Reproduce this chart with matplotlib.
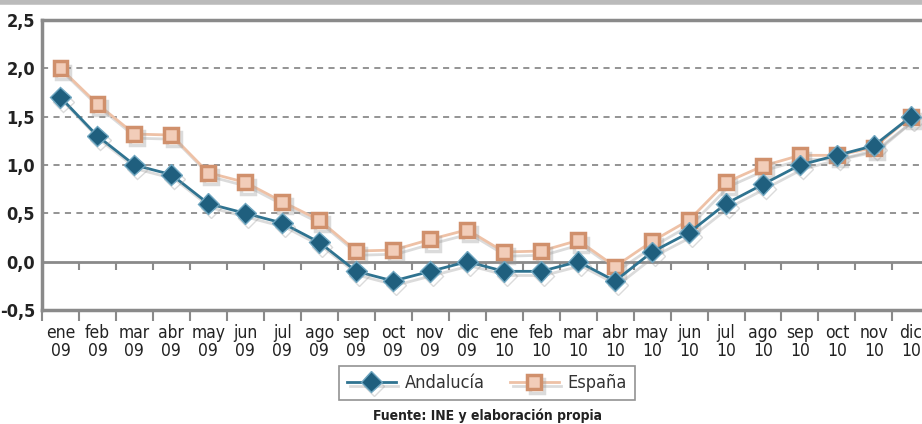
import numpy as np
import matplotlib.pyplot as plt
import matplotlib.patheffects as pe

meses = ['ene', 'feb', 'mar', 'abr', 'may', 'jun', 'jul', 'ago', 'sep', 'oct', 'nov', 'dic']
etiquetas = ['%s\n09' % m for m in meses] + ['%s\n10' % m for m in meses]

andalucia = [1.7, 1.3, 1.0, 0.9, 0.6, 0.5, 0.4, 0.2, -0.1, -0.2, -0.1, 0.0,
             -0.1, -0.1, 0.0, -0.2, 0.1, 0.3, 0.6, 0.8, 1.0, 1.1, 1.2, 1.5]
espana = [2.0, 1.63, 1.32, 1.31, 0.92, 0.82, 0.62, 0.43, 0.11, 0.12, 0.23, 0.33,
          0.10, 0.11, 0.22, -0.05, 0.21, 0.43, 0.82, 0.99, 1.10, 1.10, 1.18, 1.50]

plt.rcParams['font.family'] = ['DejaVu Sans']
plt.rcParams['font.stretch'] = 'condensed'

gris = '#8a8a8a'
azul = '#2f7390'
melocoton = '#eec1a6'
borde_sq = '#d0906c'
cara_sq = '#f2cdb9'

fig = plt.figure(figsize=(9.22, 4.24), dpi=100)
ax = fig.add_axes([42 / 922, 114 / 424, 880 / 922, 290 / 424])

x = np.arange(len(etiquetas))
sombra = [pe.SimpleLineShadow(offset=(2, -3), shadow_color='#999999', alpha=0.35), pe.Normal()]

ax.plot(x, espana, color=melocoton, lw=2.0, marker='s', ms=10, mfc=cara_sq,
        mec=borde_sq, mew=2.5, label='España', zorder=3, path_effects=sombra)
ax.plot(x, andalucia, color=azul, lw=2.0, marker='D', ms=10.5, mfc='#1f5f7e',
        mec='#6fa6c0', mew=1.0, label='Andalucía', zorder=4, path_effects=sombra)

ax.set_xlim(-0.5, 23.3)
ax.set_ylim(-0.5, 2.5)

# rejilla discontinua y linea del cero
for y in [0.5, 1.0, 1.5, 2.0]:
    ax.axhline(y, color='#777777', lw=1.1, ls=(0, (4, 3.5)), zorder=1)
ax.axhline(0, color=gris, lw=2, zorder=2)
ax.axhline(2.5, color=gris, lw=2.5, zorder=2, clip_on=False)
ax.vlines(np.arange(0.5, 23.5, 1), -0.085, 0, color=gris, lw=1.5, zorder=2)

for s in ['top', 'right']:
    ax.spines[s].set_visible(False)
for s in ['left', 'bottom']:
    ax.spines[s].set_color(gris)
    ax.spines[s].set_linewidth(2.5)

ax.set_yticks([-0.5, 0.0, 0.5, 1.0, 1.5, 2.0, 2.5])
ax.set_yticklabels(['-0,5', '0,0', '0,5', '1,0', '1,5', '2,0', '2,5'],
                   fontsize=13, fontweight='bold', color='#222222')
ax.tick_params(axis='y', length=0, pad=5)

ax.set_xticks(x)
ax.set_xticklabels(etiquetas, fontsize=12.5, color='#222222', linespacing=1.0)
ax.set_xticks(np.arange(-0.5, 23.5, 1), minor=True)
ax.tick_params(axis='x', which='major', length=0, pad=10)
ax.tick_params(axis='x', which='minor', length=8, width=1.5, color=gris)

# marco superior
fig.add_artist(plt.Line2D([0, 1], [0.995, 0.995], color='#bbbbbb', lw=4))

h, l = ax.get_legend_handles_labels()
leg = fig.legend(h[::-1], l[::-1], loc='center', bbox_to_anchor=(487 / 922, 1 - 383 / 424),
                 ncol=2, fontsize=13, frameon=True, fancybox=False,
                 handlelength=2.7, handletextpad=0.5, columnspacing=1.4, borderpad=0.45)
leg.get_frame().set_edgecolor('#777777')
leg.get_frame().set_linewidth(1.2)
for t in leg.get_texts():
    t.set_color('#333333')

fig.text(487 / 922, 1 - 416 / 424, 'Fuente: INE y elaboración propia', ha='center', va='center',
         fontsize=10, fontweight='bold', color='#222222')

fig.savefig('out.png', dpi=100)
